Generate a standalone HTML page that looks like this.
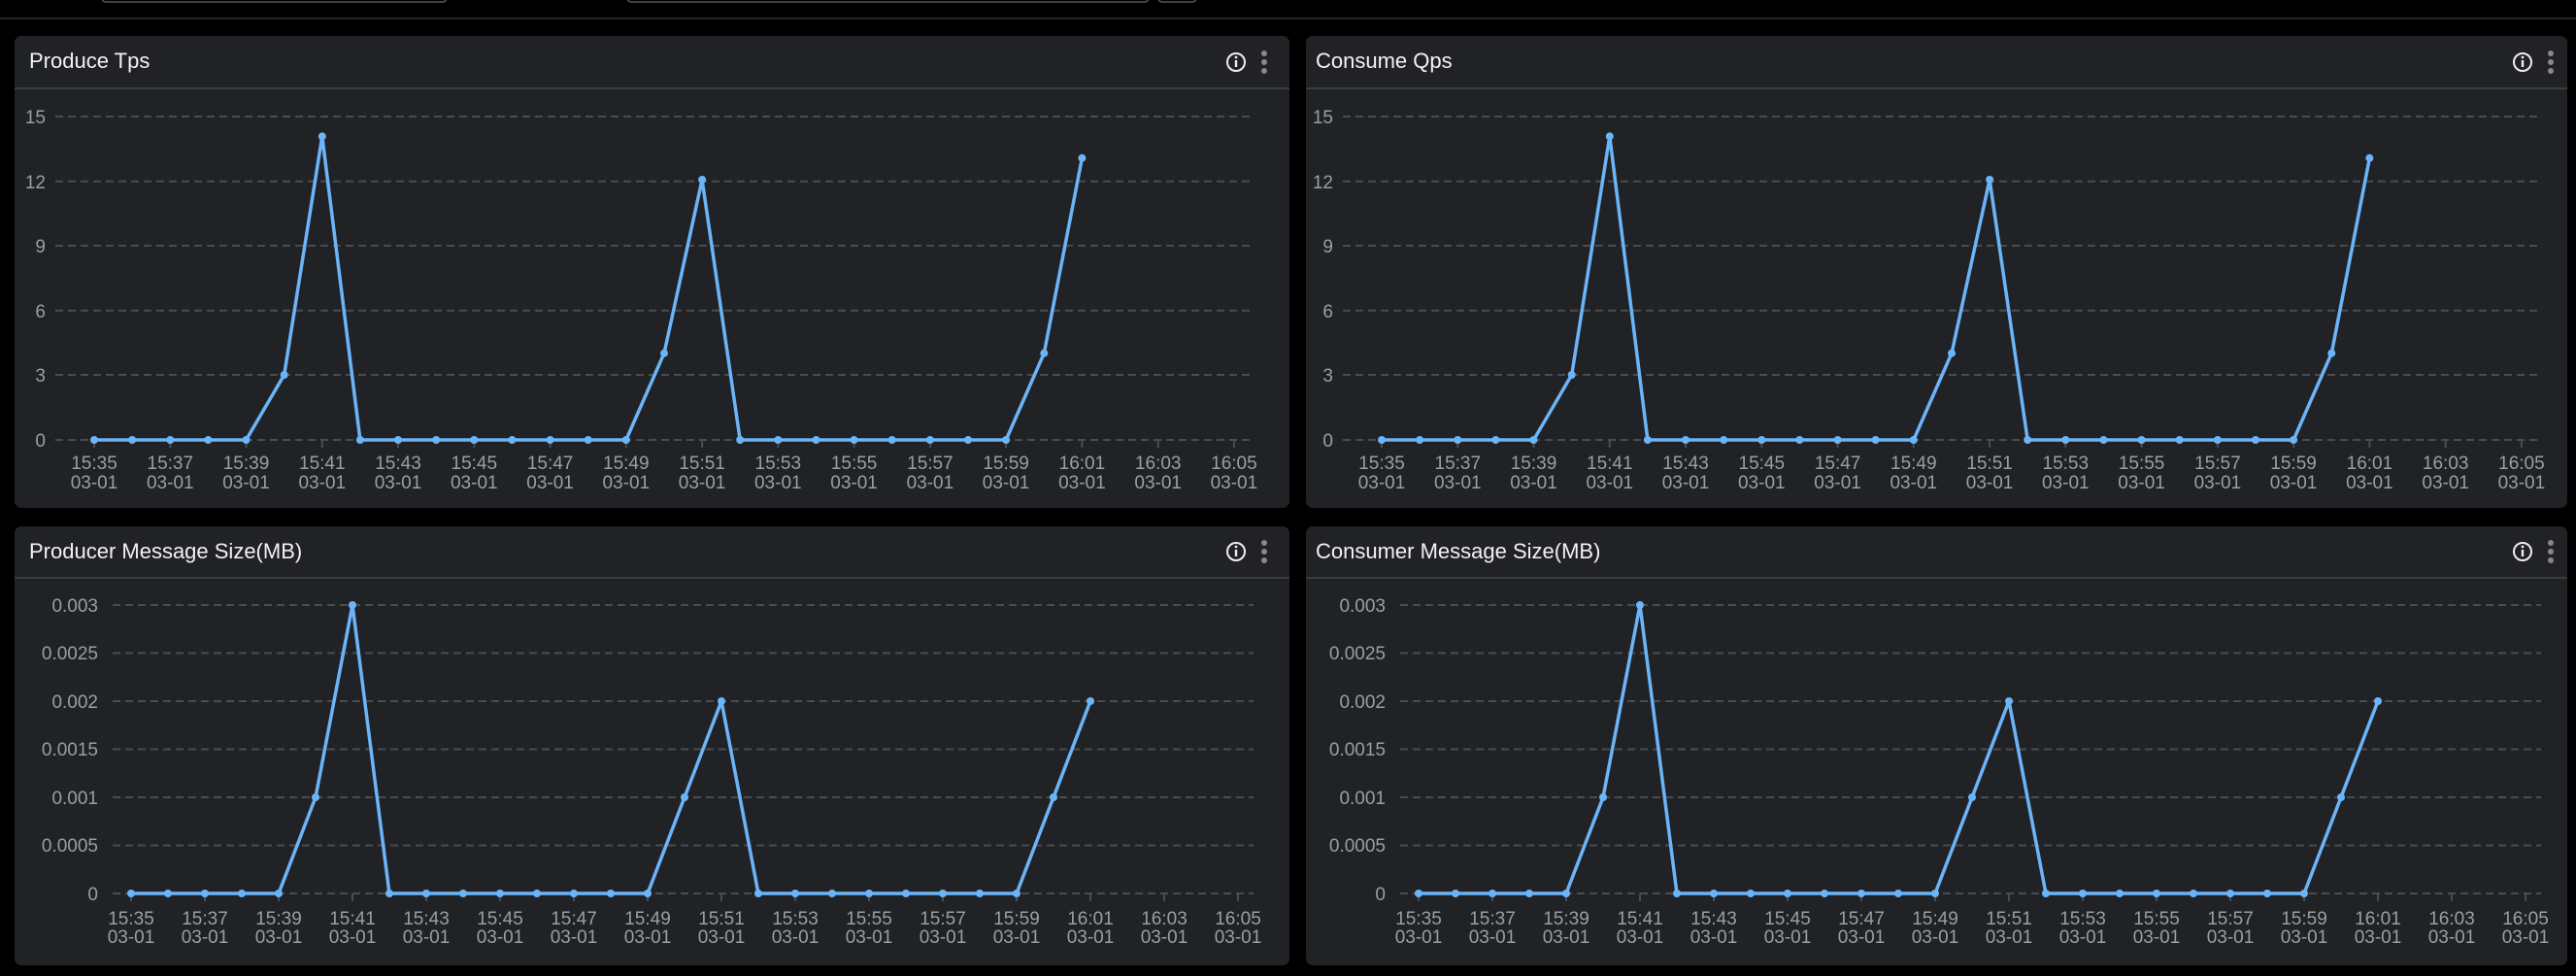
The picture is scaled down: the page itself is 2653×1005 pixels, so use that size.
<!DOCTYPE html>
<html><head><meta charset="utf-8"><style>
html,body{margin:0;padding:0;background:#000;width:2653px;height:1005px;overflow:hidden}
svg{display:block}
text{font-family:"Liberation Sans",sans-serif}
.t{fill:#f2f2f2;font-size:22px}
.yl{fill:#9a9ea6;font-size:19px;text-anchor:end}
.xl{fill:#9a9ea6;font-size:19px;text-anchor:middle}
.g{stroke:#4a4c50;stroke-width:2;stroke-dasharray:8,5}
.ln{fill:none;stroke:#6cb4f8;stroke-width:3.5;stroke-linejoin:round}
.pt{fill:#6cb4f8}
</style></head><body>
<svg width="2653" height="1005" viewBox="0 0 2653 1005" xmlns="http://www.w3.org/2000/svg">
<defs>
<g id="hdrIcons">
<circle cx="0" cy="0" r="9" fill="none" stroke="#eee" stroke-width="2"/>
<rect x="-1.2" y="-2" width="2.4" height="7" fill="#eee"/><circle cx="0" cy="-5" r="1.4" fill="#eee"/>
<circle cx="29" cy="-9" r="3" fill="#888"/><circle cx="29" cy="0" r="3" fill="#888"/><circle cx="29" cy="9" r="3" fill="#888"/>
</g>
</defs>
<rect width="2653" height="1005" fill="#000"/>
<line x1="0" y1="19" x2="2653" y2="19" stroke="#333" stroke-width="1.5"/>
<rect x="105" y="-12" width="355" height="14" rx="4" fill="none" stroke="#555" stroke-width="1.5"/>
<rect x="646" y="-12" width="537" height="14" rx="4" fill="none" stroke="#555" stroke-width="1.5"/>
<rect x="1193" y="-12" width="39" height="14" rx="4" fill="none" stroke="#555" stroke-width="1.5"/>

<rect x="15" y="37" width="1313" height="486" rx="7" fill="#212225"/>
<rect x="1345" y="37" width="1299" height="486" rx="7" fill="#212225"/>
<rect x="15" y="542" width="1313" height="452" rx="7" fill="#212225"/>
<rect x="1345" y="542" width="1299" height="452" rx="7" fill="#212225"/>
<line x1="15" y1="91" x2="1328" y2="91" stroke="#444" stroke-width="1.5"/>
<line x1="1345" y1="91" x2="2644" y2="91" stroke="#444" stroke-width="1.5"/>
<line x1="15" y1="595" x2="1328" y2="595" stroke="#444" stroke-width="1.5"/>
<line x1="1345" y1="595" x2="2644" y2="595" stroke="#444" stroke-width="1.5"/>
<text class="t" x="30" y="70">Produce Tps</text>
<text class="t" x="1355" y="70">Consume Qps</text>
<text class="t" x="30" y="575">Producer Message Size(MB)</text>
<text class="t" x="1355" y="575">Consumer Message Size(MB)</text>
<use href="#hdrIcons" x="1273" y="64"/>
<use href="#hdrIcons" x="2598" y="64"/>
<use href="#hdrIcons" x="1273" y="568"/>
<use href="#hdrIcons" x="2598" y="568"/>

<g id="c1">
<g class="g"><line x1="57" y1="120" x2="1291" y2="120"/><line x1="57" y1="186.7" x2="1291" y2="186.7"/><line x1="57" y1="253" x2="1291" y2="253"/><line x1="57" y1="319.7" x2="1291" y2="319.7"/><line x1="57" y1="386" x2="1291" y2="386"/><line x1="57" y1="453" x2="1291" y2="453"/></g>
<text class="yl" x="47" y="127">15</text><text class="yl" x="47" y="194">12</text><text class="yl" x="47" y="260">9</text><text class="yl" x="47" y="327">6</text><text class="yl" x="47" y="393">3</text><text class="yl" x="47" y="460">0</text>
<g stroke="#4a4c50" stroke-width="2"><line x1="97" y1="453" x2="97" y2="461"/><line x1="175.3" y1="453" x2="175.3" y2="461"/><line x1="253.5" y1="453" x2="253.5" y2="461"/><line x1="331.8" y1="453" x2="331.8" y2="461"/><line x1="410" y1="453" x2="410" y2="461"/><line x1="488.3" y1="453" x2="488.3" y2="461"/><line x1="566.6" y1="453" x2="566.6" y2="461"/><line x1="644.8" y1="453" x2="644.8" y2="461"/><line x1="723.1" y1="453" x2="723.1" y2="461"/><line x1="801.3" y1="453" x2="801.3" y2="461"/><line x1="879.6" y1="453" x2="879.6" y2="461"/><line x1="957.9" y1="453" x2="957.9" y2="461"/><line x1="1036.1" y1="453" x2="1036.1" y2="461"/><line x1="1114.4" y1="453" x2="1114.4" y2="461"/><line x1="1192.7" y1="453" x2="1192.7" y2="461"/><line x1="1270.9" y1="453" x2="1270.9" y2="461"/></g>
<g class="xl">
<text x="97" y="483">15:35</text><text x="97" y="503">03-01</text>
<text x="175.3" y="483">15:37</text><text x="175.3" y="503">03-01</text>
<text x="253.5" y="483">15:39</text><text x="253.5" y="503">03-01</text>
<text x="331.8" y="483">15:41</text><text x="331.8" y="503">03-01</text>
<text x="410" y="483">15:43</text><text x="410" y="503">03-01</text>
<text x="488.3" y="483">15:45</text><text x="488.3" y="503">03-01</text>
<text x="566.6" y="483">15:47</text><text x="566.6" y="503">03-01</text>
<text x="644.8" y="483">15:49</text><text x="644.8" y="503">03-01</text>
<text x="723.1" y="483">15:51</text><text x="723.1" y="503">03-01</text>
<text x="801.3" y="483">15:53</text><text x="801.3" y="503">03-01</text>
<text x="879.6" y="483">15:55</text><text x="879.6" y="503">03-01</text>
<text x="957.9" y="483">15:57</text><text x="957.9" y="503">03-01</text>
<text x="1036.1" y="483">15:59</text><text x="1036.1" y="503">03-01</text>
<text x="1114.4" y="483">16:01</text><text x="1114.4" y="503">03-01</text>
<text x="1192.7" y="483">16:03</text><text x="1192.7" y="503">03-01</text>
<text x="1270.9" y="483">16:05</text><text x="1270.9" y="503">03-01</text>
</g>
<polyline class="ln" points="97,453 136.1,453 175.3,453 214.4,453 253.5,453 292.7,386 331.8,140.4 370.9,453 410,453 449.2,453 488.3,453 527.4,453 566.6,453 605.7,453 644.8,453 684,363.7 723.1,185 762.2,453 801.3,453 840.5,453 879.6,453 918.7,453 957.9,453 997,453 1036.1,453 1075.3,363.7 1114.4,162.7"/>
<g class="pt"><circle cx="97" cy="453" r="4"/><circle cx="136.1" cy="453" r="4"/><circle cx="175.3" cy="453" r="4"/><circle cx="214.4" cy="453" r="4"/><circle cx="253.5" cy="453" r="4"/><circle cx="292.7" cy="386" r="4"/><circle cx="331.8" cy="140.4" r="4"/><circle cx="370.9" cy="453" r="4"/><circle cx="410" cy="453" r="4"/><circle cx="449.2" cy="453" r="4"/><circle cx="488.3" cy="453" r="4"/><circle cx="527.4" cy="453" r="4"/><circle cx="566.6" cy="453" r="4"/><circle cx="605.7" cy="453" r="4"/><circle cx="644.8" cy="453" r="4"/><circle cx="684" cy="363.7" r="4"/><circle cx="723.1" cy="185" r="4"/><circle cx="762.2" cy="453" r="4"/><circle cx="801.3" cy="453" r="4"/><circle cx="840.5" cy="453" r="4"/><circle cx="879.6" cy="453" r="4"/><circle cx="918.7" cy="453" r="4"/><circle cx="957.9" cy="453" r="4"/><circle cx="997" cy="453" r="4"/><circle cx="1036.1" cy="453" r="4"/><circle cx="1075.3" cy="363.7" r="4"/><circle cx="1114.4" cy="162.7" r="4"/></g>
</g>

<g transform="translate(1326,0)">
<g class="g"><line x1="57" y1="120" x2="1291" y2="120"/><line x1="57" y1="186.7" x2="1291" y2="186.7"/><line x1="57" y1="253" x2="1291" y2="253"/><line x1="57" y1="319.7" x2="1291" y2="319.7"/><line x1="57" y1="386" x2="1291" y2="386"/><line x1="57" y1="453" x2="1291" y2="453"/></g>
<text class="yl" x="47" y="127">15</text><text class="yl" x="47" y="194">12</text><text class="yl" x="47" y="260">9</text><text class="yl" x="47" y="327">6</text><text class="yl" x="47" y="393">3</text><text class="yl" x="47" y="460">0</text>
<g stroke="#4a4c50" stroke-width="2"><line x1="97" y1="453" x2="97" y2="461"/><line x1="175.3" y1="453" x2="175.3" y2="461"/><line x1="253.5" y1="453" x2="253.5" y2="461"/><line x1="331.8" y1="453" x2="331.8" y2="461"/><line x1="410" y1="453" x2="410" y2="461"/><line x1="488.3" y1="453" x2="488.3" y2="461"/><line x1="566.6" y1="453" x2="566.6" y2="461"/><line x1="644.8" y1="453" x2="644.8" y2="461"/><line x1="723.1" y1="453" x2="723.1" y2="461"/><line x1="801.3" y1="453" x2="801.3" y2="461"/><line x1="879.6" y1="453" x2="879.6" y2="461"/><line x1="957.9" y1="453" x2="957.9" y2="461"/><line x1="1036.1" y1="453" x2="1036.1" y2="461"/><line x1="1114.4" y1="453" x2="1114.4" y2="461"/><line x1="1192.7" y1="453" x2="1192.7" y2="461"/><line x1="1270.9" y1="453" x2="1270.9" y2="461"/></g>
<g class="xl">
<text x="97" y="483">15:35</text><text x="97" y="503">03-01</text>
<text x="175.3" y="483">15:37</text><text x="175.3" y="503">03-01</text>
<text x="253.5" y="483">15:39</text><text x="253.5" y="503">03-01</text>
<text x="331.8" y="483">15:41</text><text x="331.8" y="503">03-01</text>
<text x="410" y="483">15:43</text><text x="410" y="503">03-01</text>
<text x="488.3" y="483">15:45</text><text x="488.3" y="503">03-01</text>
<text x="566.6" y="483">15:47</text><text x="566.6" y="503">03-01</text>
<text x="644.8" y="483">15:49</text><text x="644.8" y="503">03-01</text>
<text x="723.1" y="483">15:51</text><text x="723.1" y="503">03-01</text>
<text x="801.3" y="483">15:53</text><text x="801.3" y="503">03-01</text>
<text x="879.6" y="483">15:55</text><text x="879.6" y="503">03-01</text>
<text x="957.9" y="483">15:57</text><text x="957.9" y="503">03-01</text>
<text x="1036.1" y="483">15:59</text><text x="1036.1" y="503">03-01</text>
<text x="1114.4" y="483">16:01</text><text x="1114.4" y="503">03-01</text>
<text x="1192.7" y="483">16:03</text><text x="1192.7" y="503">03-01</text>
<text x="1270.9" y="483">16:05</text><text x="1270.9" y="503">03-01</text>
</g>
<polyline class="ln" points="97,453 136.1,453 175.3,453 214.4,453 253.5,453 292.7,386 331.8,140.4 370.9,453 410,453 449.2,453 488.3,453 527.4,453 566.6,453 605.7,453 644.8,453 684,363.7 723.1,185 762.2,453 801.3,453 840.5,453 879.6,453 918.7,453 957.9,453 997,453 1036.1,453 1075.3,363.7 1114.4,162.7"/>
<g class="pt"><circle cx="97" cy="453" r="4"/><circle cx="136.1" cy="453" r="4"/><circle cx="175.3" cy="453" r="4"/><circle cx="214.4" cy="453" r="4"/><circle cx="253.5" cy="453" r="4"/><circle cx="292.7" cy="386" r="4"/><circle cx="331.8" cy="140.4" r="4"/><circle cx="370.9" cy="453" r="4"/><circle cx="410" cy="453" r="4"/><circle cx="449.2" cy="453" r="4"/><circle cx="488.3" cy="453" r="4"/><circle cx="527.4" cy="453" r="4"/><circle cx="566.6" cy="453" r="4"/><circle cx="605.7" cy="453" r="4"/><circle cx="644.8" cy="453" r="4"/><circle cx="684" cy="363.7" r="4"/><circle cx="723.1" cy="185" r="4"/><circle cx="762.2" cy="453" r="4"/><circle cx="801.3" cy="453" r="4"/><circle cx="840.5" cy="453" r="4"/><circle cx="879.6" cy="453" r="4"/><circle cx="918.7" cy="453" r="4"/><circle cx="957.9" cy="453" r="4"/><circle cx="997" cy="453" r="4"/><circle cx="1036.1" cy="453" r="4"/><circle cx="1075.3" cy="363.7" r="4"/><circle cx="1114.4" cy="162.7" r="4"/></g>
</g>

<g>
<g class="g"><line x1="116" y1="623" x2="1291" y2="623"/><line x1="116" y1="672.5" x2="1291" y2="672.5"/><line x1="116" y1="722" x2="1291" y2="722"/><line x1="116" y1="771.5" x2="1291" y2="771.5"/><line x1="116" y1="821" x2="1291" y2="821"/><line x1="116" y1="870.5" x2="1291" y2="870.5"/><line x1="116" y1="920" x2="1291" y2="920"/></g>
<text class="yl" x="101" y="630">0.003</text><text class="yl" x="101" y="679">0.0025</text><text class="yl" x="101" y="729">0.002</text><text class="yl" x="101" y="778">0.0015</text><text class="yl" x="101" y="828">0.001</text><text class="yl" x="101" y="877">0.0005</text><text class="yl" x="101" y="927">0</text>
<g stroke="#4a4c50" stroke-width="2"><line x1="135" y1="920" x2="135" y2="928"/><line x1="211" y1="920" x2="211" y2="928"/><line x1="287" y1="920" x2="287" y2="928"/><line x1="363" y1="920" x2="363" y2="928"/><line x1="439" y1="920" x2="439" y2="928"/><line x1="515" y1="920" x2="515" y2="928"/><line x1="591" y1="920" x2="591" y2="928"/><line x1="667" y1="920" x2="667" y2="928"/><line x1="743" y1="920" x2="743" y2="928"/><line x1="819" y1="920" x2="819" y2="928"/><line x1="895" y1="920" x2="895" y2="928"/><line x1="971" y1="920" x2="971" y2="928"/><line x1="1047" y1="920" x2="1047" y2="928"/><line x1="1123" y1="920" x2="1123" y2="928"/><line x1="1199" y1="920" x2="1199" y2="928"/><line x1="1275" y1="920" x2="1275" y2="928"/></g>
<g class="xl">
<text x="135" y="952">15:35</text><text x="135" y="971">03-01</text>
<text x="211" y="952">15:37</text><text x="211" y="971">03-01</text>
<text x="287" y="952">15:39</text><text x="287" y="971">03-01</text>
<text x="363" y="952">15:41</text><text x="363" y="971">03-01</text>
<text x="439" y="952">15:43</text><text x="439" y="971">03-01</text>
<text x="515" y="952">15:45</text><text x="515" y="971">03-01</text>
<text x="591" y="952">15:47</text><text x="591" y="971">03-01</text>
<text x="667" y="952">15:49</text><text x="667" y="971">03-01</text>
<text x="743" y="952">15:51</text><text x="743" y="971">03-01</text>
<text x="819" y="952">15:53</text><text x="819" y="971">03-01</text>
<text x="895" y="952">15:55</text><text x="895" y="971">03-01</text>
<text x="971" y="952">15:57</text><text x="971" y="971">03-01</text>
<text x="1047" y="952">15:59</text><text x="1047" y="971">03-01</text>
<text x="1123" y="952">16:01</text><text x="1123" y="971">03-01</text>
<text x="1199" y="952">16:03</text><text x="1199" y="971">03-01</text>
<text x="1275" y="952">16:05</text><text x="1275" y="971">03-01</text>
</g>
<polyline class="ln" points="135,920 173,920 211,920 249,920 287,920 325,821 363,623 401,920 439,920 477,920 515,920 553,920 591,920 629,920 667,920 705,821 743,722 781,920 819,920 857,920 895,920 933,920 971,920 1009,920 1047,920 1085,821 1123,722"/>
<g class="pt"><circle cx="135" cy="920" r="4"/><circle cx="173" cy="920" r="4"/><circle cx="211" cy="920" r="4"/><circle cx="249" cy="920" r="4"/><circle cx="287" cy="920" r="4"/><circle cx="325" cy="821" r="4"/><circle cx="363" cy="623" r="4"/><circle cx="401" cy="920" r="4"/><circle cx="439" cy="920" r="4"/><circle cx="477" cy="920" r="4"/><circle cx="515" cy="920" r="4"/><circle cx="553" cy="920" r="4"/><circle cx="591" cy="920" r="4"/><circle cx="629" cy="920" r="4"/><circle cx="667" cy="920" r="4"/><circle cx="705" cy="821" r="4"/><circle cx="743" cy="722" r="4"/><circle cx="781" cy="920" r="4"/><circle cx="819" cy="920" r="4"/><circle cx="857" cy="920" r="4"/><circle cx="895" cy="920" r="4"/><circle cx="933" cy="920" r="4"/><circle cx="971" cy="920" r="4"/><circle cx="1009" cy="920" r="4"/><circle cx="1047" cy="920" r="4"/><circle cx="1085" cy="821" r="4"/><circle cx="1123" cy="722" r="4"/></g>
</g>

<g transform="translate(1326,0)">
<g class="g"><line x1="116" y1="623" x2="1291" y2="623"/><line x1="116" y1="672.5" x2="1291" y2="672.5"/><line x1="116" y1="722" x2="1291" y2="722"/><line x1="116" y1="771.5" x2="1291" y2="771.5"/><line x1="116" y1="821" x2="1291" y2="821"/><line x1="116" y1="870.5" x2="1291" y2="870.5"/><line x1="116" y1="920" x2="1291" y2="920"/></g>
<text class="yl" x="101" y="630">0.003</text><text class="yl" x="101" y="679">0.0025</text><text class="yl" x="101" y="729">0.002</text><text class="yl" x="101" y="778">0.0015</text><text class="yl" x="101" y="828">0.001</text><text class="yl" x="101" y="877">0.0005</text><text class="yl" x="101" y="927">0</text>
<g stroke="#4a4c50" stroke-width="2"><line x1="135" y1="920" x2="135" y2="928"/><line x1="211" y1="920" x2="211" y2="928"/><line x1="287" y1="920" x2="287" y2="928"/><line x1="363" y1="920" x2="363" y2="928"/><line x1="439" y1="920" x2="439" y2="928"/><line x1="515" y1="920" x2="515" y2="928"/><line x1="591" y1="920" x2="591" y2="928"/><line x1="667" y1="920" x2="667" y2="928"/><line x1="743" y1="920" x2="743" y2="928"/><line x1="819" y1="920" x2="819" y2="928"/><line x1="895" y1="920" x2="895" y2="928"/><line x1="971" y1="920" x2="971" y2="928"/><line x1="1047" y1="920" x2="1047" y2="928"/><line x1="1123" y1="920" x2="1123" y2="928"/><line x1="1199" y1="920" x2="1199" y2="928"/><line x1="1275" y1="920" x2="1275" y2="928"/></g>
<g class="xl">
<text x="135" y="952">15:35</text><text x="135" y="971">03-01</text>
<text x="211" y="952">15:37</text><text x="211" y="971">03-01</text>
<text x="287" y="952">15:39</text><text x="287" y="971">03-01</text>
<text x="363" y="952">15:41</text><text x="363" y="971">03-01</text>
<text x="439" y="952">15:43</text><text x="439" y="971">03-01</text>
<text x="515" y="952">15:45</text><text x="515" y="971">03-01</text>
<text x="591" y="952">15:47</text><text x="591" y="971">03-01</text>
<text x="667" y="952">15:49</text><text x="667" y="971">03-01</text>
<text x="743" y="952">15:51</text><text x="743" y="971">03-01</text>
<text x="819" y="952">15:53</text><text x="819" y="971">03-01</text>
<text x="895" y="952">15:55</text><text x="895" y="971">03-01</text>
<text x="971" y="952">15:57</text><text x="971" y="971">03-01</text>
<text x="1047" y="952">15:59</text><text x="1047" y="971">03-01</text>
<text x="1123" y="952">16:01</text><text x="1123" y="971">03-01</text>
<text x="1199" y="952">16:03</text><text x="1199" y="971">03-01</text>
<text x="1275" y="952">16:05</text><text x="1275" y="971">03-01</text>
</g>
<polyline class="ln" points="135,920 173,920 211,920 249,920 287,920 325,821 363,623 401,920 439,920 477,920 515,920 553,920 591,920 629,920 667,920 705,821 743,722 781,920 819,920 857,920 895,920 933,920 971,920 1009,920 1047,920 1085,821 1123,722"/>
<g class="pt"><circle cx="135" cy="920" r="4"/><circle cx="173" cy="920" r="4"/><circle cx="211" cy="920" r="4"/><circle cx="249" cy="920" r="4"/><circle cx="287" cy="920" r="4"/><circle cx="325" cy="821" r="4"/><circle cx="363" cy="623" r="4"/><circle cx="401" cy="920" r="4"/><circle cx="439" cy="920" r="4"/><circle cx="477" cy="920" r="4"/><circle cx="515" cy="920" r="4"/><circle cx="553" cy="920" r="4"/><circle cx="591" cy="920" r="4"/><circle cx="629" cy="920" r="4"/><circle cx="667" cy="920" r="4"/><circle cx="705" cy="821" r="4"/><circle cx="743" cy="722" r="4"/><circle cx="781" cy="920" r="4"/><circle cx="819" cy="920" r="4"/><circle cx="857" cy="920" r="4"/><circle cx="895" cy="920" r="4"/><circle cx="933" cy="920" r="4"/><circle cx="971" cy="920" r="4"/><circle cx="1009" cy="920" r="4"/><circle cx="1047" cy="920" r="4"/><circle cx="1085" cy="821" r="4"/><circle cx="1123" cy="722" r="4"/></g>
</g>
</svg>
</body></html>
